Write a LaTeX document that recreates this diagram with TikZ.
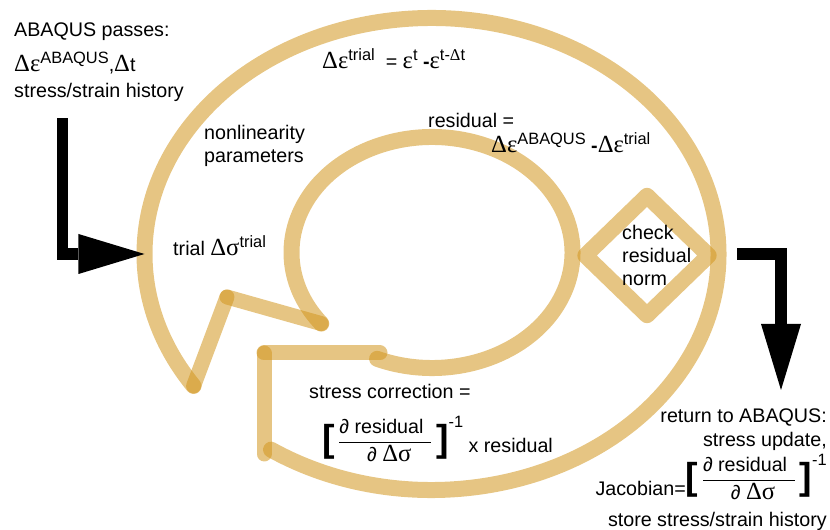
\documentclass[tikz,border=0pt]{standalone}
\usepackage{amsmath}
\usepackage{fontspec}
\setmainfont{Liberation Sans}
\newfontfamily\grk{Liberation Serif}
\usetikzlibrary{arrows.meta,shapes.geometric}
\definecolor{LoopGold}{RGB}{210,150,30}
\newcommand{\gk}[1]{{\grk\fontsize{21}{21}\selectfont #1}}
\newcommand{\hi}[1]{\raisebox{0.45em}{\fontsize{14}{14}\selectfont #1}}
\newcommand{\brk}[1]{$\vcenter{\hbox{\fontsize{32}{32}\selectfont\bfseries #1}}$}
\newcommand{\dres}[1][0.3em]{\raisebox{#1}{\brk{[}\,$\dfrac{\text{∂ residual\hspace{0.4em}}}{\text{\hspace{0.4em}∂ \gk{Δσ}}}$\,\brk{]}\raisebox{1em}{\fontsize{14}{14}\selectfont -1}}}

\begin{document}
\begin{tikzpicture}[x=0.03cm,y=0.03cm, every node/.style={font=\fontsize{16.8}{20}\selectfont,inner sep=0pt},
  loopline/.style={draw=LoopGold,draw opacity=0.55,line width=0.48cm,line cap=round,line join=round},
  zigline/.style={loopline,line width=0.45cm},
  bigarrow/.style={line width=0.35cm,-{Triangle[length=1.98cm,width=1.2cm,line width=0pt]}}]
  \useasboundingbox (0,0) rectangle (830,530);
  % outer and inner loops
  \coordinate (oc) at (431.5,276);
  \coordinate (ic) at (432,277.5);
  \draw[loopline] (oc) ++(236:287 and 236) arc[start angle=236,end angle=574,x radius=287,y radius=236];
  \draw[loopline] (ic) ++(247:140.5 and 115.5) arc[start angle=247,end angle=578,x radius=140.5,y radius=115.5];
  \path (oc) ++(214:287 and 236) coordinate (oVee);
  \path (oc) ++(180:287 and 236) coordinate (oWest);
  \path (ic) ++(218:140.5 and 115.5) coordinate (iKnee);
  \coordinate (zA) at (227,233);
  \coordinate (zB) at (264,76);
  \coordinate (zC) at (264,177);
  \coordinate (zD) at (380,177);
  \draw[zigline] (oVee) -- (zA);
  \draw[zigline] (zA) -- (iKnee);
  \draw[zigline] (zB) -- (zC);
  \draw[zigline] (zC) -- (zD);
  \node[loopline,diamond,minimum width=3.9cm,minimum height=3.78cm] (chk) at (647,274.5) {};
  % texts
  \node[anchor=base west] (abqpass) at (14,493) {ABAQUS passes:};
  \node[anchor=base west] (abqinc) at (14,458) {\gk{Δε}\hi{ABAQUS},\gk{Δ}t};
  \node[anchor=base west] (abqhist) at (14,432) {stress/strain history};
  \node[anchor=base west] (trialinc) at (322,461) {\gk{Δε}\hi{trial}\ \ = \gk{ε}\hi{t} \textbf{-}\gk{ε}\hi{t-{\grk Δ}t}};
  \node[anchor=base west,align=left] (nonlin) at (204,367) {nonlinearity\\parameters};
  \node[anchor=base west] (resid) at (428,402) {residual =};
  \node[anchor=base west] (residdef) at (491,377) {\gk{Δε}\hi{ABAQUS} \textbf{-}\gk{Δε}\hi{trial}};
  \node[anchor=base west] (trialsig) at (173,274) {trial \gk{Δσ}\hi{trial}};
  \node[anchor=base west,align=left] (chktxt) at (622,244) {check\\residual\\norm};
  \node[anchor=base west] (corr) at (309,131) {stress correction =};
  \node[anchor=base west] (corrdef) at (322,77) {\dres\ x residual};
  \node[anchor=base east] (ret) at (827,107) {return to ABAQUS:};
  \node[anchor=base east] (upd) at (827,83) {stress update,};
  \node[anchor=base east] (jac) at (827,34) {Jacobian=\dres[0.55em]};
  \node[anchor=base east] (store) at (827,3) {store stress/strain history};
  % in and out arrows
  \coordinate (inTop) at (62.5,411.7);
  \coordinate (outStart) at (737,276);
  \coordinate (outTip) at (781,140);
  \draw[bigarrow] (inTop) |- (oWest);
  \draw[bigarrow] (outStart) -| (outTip);
\end{tikzpicture}
\end{document}
